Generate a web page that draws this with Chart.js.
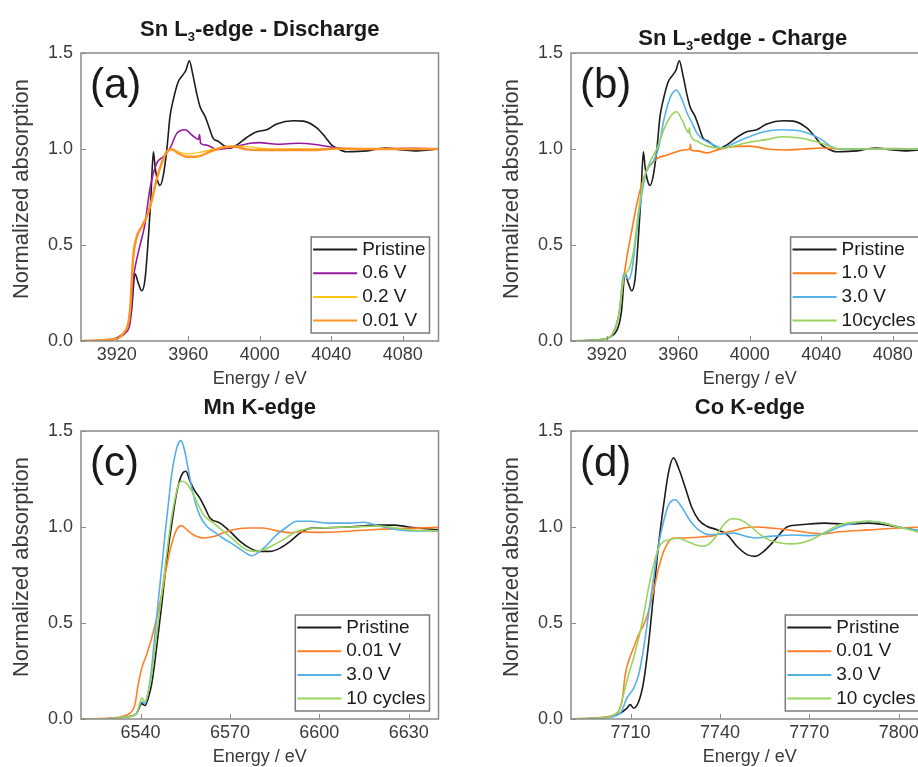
<!DOCTYPE html>
<html>
<head>
<meta charset="utf-8">
<script src="https://cdn.jsdelivr.net/npm/chart.js@4.4.1/dist/chart.umd.min.js"></script>
<style>
  html, body { margin: 0; padding: 0; background: #fff; overflow: hidden; }
  body { width: 918px; height: 767px; position: relative; }
  canvas { position: absolute; }
</style>
</head>
<body>
<canvas id="chartA" width="480" height="400" style="left:0;top:0"></canvas>
<canvas id="chartB" width="480" height="400" style="left:490px;top:0"></canvas>
<canvas id="chartC" width="480" height="400" style="left:0;top:378px"></canvas>
<canvas id="chartD" width="480" height="400" style="left:490px;top:378px"></canvas>
<script>
// tick labels
const snTicks = [3920, 3960, 4000, 4040, 4080];
const mnTicks = [6540, 6570, 6600, 6630];
const coTicks = [7710, 7740, 7770, 7800];
const yTicks = [0, 0.5, 1.0, 1.5];

// Sn L3-edge, pristine (shared by a and b)
const snPristineE = [3900, 3915, 3921.8, 3926.5, 3928.3, 3930.2, 3932.1, 3934, 3935.8, 3937.7, 3939, 3940.5, 3941.4, 3942.7, 3944.2, 3946, 3948, 3949.8, 3951.6, 3954.4, 3956.9, 3958.7, 3960.6, 3962.5, 3964.7, 3966.6, 3969.4, 3971.2, 3974, 3976.8, 3979.6, 3983.4, 3987, 3992.7, 3998.3, 4003.9, 4009.5, 4018.8, 4024.4, 4031.9, 4036.5, 4040.3, 4043, 4048.6, 4060, 4070, 4080, 4088, 4100];
const snPristineV = [0.0, 0.005, 0.02, 0.075, 0.16, 0.35, 0.30, 0.262, 0.32, 0.54, 0.73, 0.985, 0.91, 0.84, 0.81, 0.86, 0.995, 1.17, 1.255, 1.35, 1.385, 1.41, 1.46, 1.39, 1.29, 1.22, 1.17, 1.125, 1.055, 1.04, 1.02, 1.004, 1.02, 1.06, 1.09, 1.10, 1.13, 1.147, 1.145, 1.11, 1.064, 1.02, 1.005, 0.986, 0.99, 1.005, 0.995, 0.99, 1.0];

// (a) discharge
const sn06E = [3900, 3918, 3924, 3927.4, 3929.2, 3930.6, 3932.8, 3935.8, 3938.5, 3942.3, 3946, 3949.8, 3953.5, 3958.2, 3962, 3965.7, 3966.3, 3966.9, 3970.3, 3976, 3985.3, 3994.7, 4000, 4010, 4022, 4030, 4040, 4050, 4085, 4100];
const sn06V = [0.0, 0.01, 0.04, 0.09, 0.32, 0.40, 0.49, 0.61, 0.79, 0.925, 0.96, 1.004, 1.08, 1.10, 1.073, 1.05, 1.075, 1.03, 1.02, 0.998, 1.01, 1.03, 1.033, 1.025, 1.03, 1.025, 1.01, 1.0, 1.003, 1.0];
const sn02E = [3900, 3918, 3923.7, 3927.4, 3929.2, 3931.1, 3933.9, 3936.7, 3939.5, 3942.3, 3945.1, 3948, 3950.8, 3954.5, 3959.2, 3964.8, 3972.2, 3979.6, 3988, 3996, 4005, 4100];
const sn02V = [0.0, 0.01, 0.04, 0.15, 0.42, 0.53, 0.59, 0.645, 0.73, 0.845, 0.93, 0.99, 1.0, 0.985, 0.975, 0.98, 0.995, 1.01, 1.015, 1.01, 1.0, 1.0];
const sn001E = [3900, 3918, 3923.7, 3927.4, 3929.2, 3931.1, 3933.9, 3936.7, 3939.5, 3942.3, 3945.1, 3948, 3950.8, 3954.5, 3959.2, 3964.8, 3972.2, 3979.6, 3985.3, 3992.7, 4000, 4030, 4045, 4060, 4100];
const sn001V = [0.0, 0.01, 0.04, 0.16, 0.44, 0.54, 0.595, 0.647, 0.73, 0.84, 0.925, 0.986, 0.998, 0.977, 0.96, 0.96, 0.986, 1.009, 1.013, 0.998, 0.995, 0.995, 1.003, 1.0, 1.0];

// (b) charge
const sn10E = [3900, 3918, 3924, 3927, 3929.4, 3931.3, 3934.1, 3936.9, 3939.7, 3942.5, 3945.3, 3948.1, 3953.7, 3959.3, 3963, 3966.5, 3966.8, 3967.1, 3970.5, 3976.1, 3981.7, 3989.1, 4000, 4010, 4020, 4030, 4040, 4050, 4080, 4100];
const sn10V = [0.0, 0.01, 0.05, 0.15, 0.32, 0.44, 0.58, 0.717, 0.82, 0.89, 0.925, 0.95, 0.969, 0.986, 0.995, 1.0, 1.025, 0.995, 0.99, 0.98, 0.995, 1.01, 1.015, 1.0, 0.995, 1.0, 1.005, 1.0, 1.002, 1.0];
const sn30E = [3900, 3918, 3924, 3927, 3929.4, 3932.2, 3934.1, 3936.9, 3939.7, 3942.5, 3946.3, 3949.1, 3951.9, 3955.6, 3959, 3962.2, 3965, 3967.8, 3970.6, 3974.4, 3980, 3984.6, 3991.2, 3998.6, 4008, 4018, 4030, 4040, 4046, 4050, 4100];
const sn30V = [0.0, 0.01, 0.05, 0.15, 0.35, 0.32, 0.37, 0.58, 0.77, 0.89, 0.94, 1.01, 1.15, 1.27, 1.307, 1.255, 1.186, 1.134, 1.08, 1.047, 1.02, 1.005, 1.03, 1.06, 1.09, 1.10, 1.09, 1.05, 1.01, 1.0, 1.0];
const sn10cycE = [3900, 3918, 3924, 3927, 3929.4, 3932.2, 3935, 3937.8, 3940.6, 3944.3, 3948.1, 3951.9, 3955.6, 3959, 3962.2, 3965.8, 3966.2, 3966.6, 3970.6, 3976.2, 3984.6, 3993, 3999.6, 4010, 4018, 4030, 4040, 4046, 4050, 4100];
const sn10cycV = [0.0, 0.01, 0.05, 0.15, 0.33, 0.37, 0.47, 0.68, 0.84, 0.934, 1.003, 1.1, 1.168, 1.194, 1.15, 1.085, 1.11, 1.08, 1.04, 1.015, 1.005, 1.02, 1.035, 1.05, 1.064, 1.055, 1.03, 1.01, 1.0, 1.0];

// (c) Mn K-edge
const mnPristineE = [6520, 6530, 6535, 6538.7, 6540.4, 6541.5, 6542.6, 6543.7, 6544.8, 6545.9, 6547.1, 6548.2, 6549.3, 6550.4, 6551.6, 6552.7, 6554.1, 6555.2, 6556.6, 6558.3, 6559.9, 6561.6, 6563.3, 6566.7, 6570, 6573.4, 6576.7, 6580.1, 6583.4, 6586.8, 6590.2, 6593.5, 6596.9, 6600, 6610, 6620, 6625, 6630, 6640];
const mnPristineV = [0.0, 0.003, 0.01, 0.03, 0.08, 0.07, 0.11, 0.18, 0.30, 0.44, 0.595, 0.75, 0.89, 1.01, 1.134, 1.22, 1.28, 1.29, 1.238, 1.186, 1.15, 1.10, 1.047, 1.02, 0.977, 0.925, 0.89, 0.873, 0.873, 0.89, 0.925, 0.968, 0.993, 0.995, 1.0, 1.01, 1.01, 1.0, 0.985];
const mn001E = [6520, 6530, 6536.4, 6538.1, 6539.2, 6540.4, 6542, 6543.7, 6545.4, 6547.1, 6548.7, 6550.4, 6552.1, 6553.8, 6555.5, 6557.7, 6561.1, 6564.5, 6567.8, 6572.3, 6576.7, 6581.2, 6585.7, 6590.2, 6593.5, 6600, 6610, 6620, 6630, 6640];
const mn001V = [0.0, 0.005, 0.03, 0.075, 0.18, 0.265, 0.335, 0.42, 0.526, 0.65, 0.79, 0.91, 0.986, 1.007, 0.986, 0.96, 0.943, 0.95, 0.97, 0.99, 0.995, 0.995, 0.98, 0.97, 0.975, 0.972, 0.978, 0.988, 0.993, 0.998];
const mn30E = [6520, 6530, 6535, 6538.7, 6540.4, 6541.5, 6542.6, 6543.7, 6544.8, 6545.9, 6547.1, 6548.2, 6549.3, 6550.4, 6551.6, 6552.7, 6553.5, 6554.6, 6555.7, 6557.2, 6558.6, 6560, 6562.2, 6564.5, 6567.8, 6571.2, 6574.5, 6577.3, 6579, 6582.4, 6585.7, 6589.1, 6592.4, 6597, 6603, 6610, 6615, 6620, 6630, 6640];
const mn30V = [0.0, 0.003, 0.01, 0.03, 0.09, 0.08, 0.144, 0.265, 0.44, 0.61, 0.79, 0.96, 1.116, 1.27, 1.377, 1.437, 1.45, 1.41, 1.325, 1.203, 1.116, 1.055, 1.004, 0.977, 0.94, 0.908, 0.873, 0.85, 0.862, 0.906, 0.96, 1.0, 1.03, 1.03, 1.02, 1.02, 1.025, 1.005, 0.98, 0.98];
const mn10cycE = [6520, 6530, 6535, 6538.7, 6540.4, 6541.5, 6542.6, 6543.7, 6544.8, 6545.9, 6547.1, 6548.2, 6549.3, 6550.4, 6551.6, 6552.7, 6553.8, 6555.2, 6557.2, 6558.8, 6561.1, 6564.5, 6567.8, 6571.2, 6574.5, 6577.9, 6581.2, 6584.6, 6587.9, 6592.4, 6596, 6600, 6610, 6620, 6630, 6640];
const mn10cycV = [0.0, 0.003, 0.01, 0.03, 0.11, 0.09, 0.144, 0.23, 0.37, 0.51, 0.65, 0.79, 0.925, 1.047, 1.15, 1.22, 1.238, 1.23, 1.186, 1.134, 1.064, 1.02, 0.977, 0.934, 0.89, 0.873, 0.882, 0.906, 0.934, 0.977, 0.99, 0.995, 1.0, 1.005, 0.985, 0.98];

// (d) Co K-edge
const coPristineE = [7690, 7700, 7706.5, 7708.8, 7709.9, 7711, 7712.7, 7714.4, 7716, 7717.7, 7719.4, 7721.1, 7722.8, 7724.4, 7726.1, 7728.4, 7730.6, 7732.8, 7735.6, 7739, 7742.4, 7745.7, 7749.1, 7751.9, 7754.7, 7758, 7762.5, 7766, 7770, 7775, 7782, 7790, 7800, 7810];
const coPristineV = [0.0, 0.005, 0.03, 0.057, 0.075, 0.057, 0.09, 0.196, 0.387, 0.647, 0.908, 1.116, 1.29, 1.36, 1.307, 1.203, 1.10, 1.038, 1.004, 0.986, 0.96, 0.9, 0.856, 0.847, 0.873, 0.925, 1.0, 1.01, 1.016, 1.02, 1.015, 1.02, 1.0, 0.97];
const co001E = [7690, 7700, 7705.4, 7707.1, 7708.2, 7709.3, 7711, 7712.7, 7714.4, 7716, 7717.7, 7719.4, 7721.1, 7722.8, 7724.4, 7727.8, 7731.2, 7734.5, 7737.9, 7741.2, 7744.6, 7748, 7752.4, 7756.9, 7762.5, 7770, 7775, 7780, 7790, 7800, 7810];
const co001V = [0.0, 0.008, 0.03, 0.09, 0.23, 0.30, 0.37, 0.44, 0.49, 0.56, 0.665, 0.786, 0.873, 0.925, 0.943, 0.943, 0.945, 0.95, 0.955, 0.97, 0.98, 0.995, 1.0, 0.995, 0.986, 0.97, 0.965, 0.975, 0.985, 0.995, 1.0];
const co30E = [7690, 7700, 7706.5, 7708.8, 7711, 7712.7, 7714.4, 7716, 7717.7, 7719.4, 7721.1, 7722.8, 7725, 7727.3, 7730.1, 7733.5, 7736.8, 7740.2, 7744.6, 7749.1, 7752.4, 7755.8, 7760.3, 7765, 7770, 7775, 7780, 7785, 7790, 7795, 7800, 7805, 7810];
const co30V = [0.0, 0.005, 0.03, 0.11, 0.16, 0.23, 0.37, 0.543, 0.734, 0.908, 1.03, 1.116, 1.142, 1.10, 1.03, 0.977, 0.96, 0.963, 0.968, 0.95, 0.943, 0.95, 0.955, 0.958, 0.955, 0.965, 1.0, 1.02, 1.03, 1.02, 1.0, 0.985, 0.975];
const co10cycE = [7690, 7700, 7705.9, 7707.6, 7709.3, 7711, 7712.7, 7714.4, 7716, 7717.7, 7719.4, 7721.1, 7723.3, 7725.6, 7729, 7732.3, 7734.5, 7736.8, 7739, 7741.2, 7744, 7746.8, 7750.2, 7753.5, 7756.9, 7760.3, 7764, 7770, 7775, 7780, 7785, 7790, 7795, 7800, 7810];
const co10cycV = [0.0, 0.005, 0.04, 0.127, 0.23, 0.318, 0.42, 0.543, 0.68, 0.80, 0.89, 0.925, 0.934, 0.943, 0.925, 0.905, 0.9, 0.917, 0.96, 1.012, 1.043, 1.038, 1.004, 0.96, 0.93, 0.917, 0.912, 0.93, 0.97, 1.01, 1.025, 1.03, 1.02, 1.0, 0.96];

// Shared styling
const fontFamily = "'Liberation Sans', Arial, sans-serif";
const frameColor = '#8a8a8a';
const textColor = '#3a3a3a';
const inkColor = '#1a1a1a';

const pts = (e, v) => e.map((x, i) => ({ x: x, y: v[i] }));

// Draws the box, inward ticks, panel title (with subscript), panel letter, y title and legend
const panelDecor = {
    id: 'panelDecor',
    afterDatasetsDraw(chart, args, opts) {
        const ctx = chart.ctx;
        const ca = chart.chartArea;
        const xs = chart.scales.x, ys = chart.scales.y;
        ctx.save();

        // frame + inward ticks
        ctx.strokeStyle = frameColor;
        ctx.lineWidth = 1.5;
        ctx.strokeRect(ca.left, ca.top, ca.right - ca.left, ca.bottom - ca.top);
        ctx.lineWidth = 1;
        ctx.beginPath();
        xs.ticks.forEach(t => {
            const px = Math.round(xs.getPixelForValue(t.value)) + 0.5;
            ctx.moveTo(px, ca.bottom); ctx.lineTo(px, ca.bottom - 5);
        });
        ys.ticks.forEach(t => {
            const py = Math.round(ys.getPixelForValue(t.value)) + 0.5;
            ctx.moveTo(ca.left, py); ctx.lineTo(ca.left + 5, py);
        });
        ctx.stroke();

        // panel title, parts: [text, isSubscript]
        const mainFont = 'bold 22px ' + fontFamily;
        const subFont = 'bold 13px ' + fontFamily;
        let total = 0;
        opts.title.forEach(p => { ctx.font = p[1] ? subFont : mainFont; total += ctx.measureText(p[0]).width; });
        let tx = (ca.left + ca.right) / 2 - total / 2 + (opts.titleDx || 0);
        ctx.fillStyle = inkColor;
        ctx.textBaseline = 'alphabetic';
        ctx.textAlign = 'left';
        opts.title.forEach(p => {
            ctx.font = p[1] ? subFont : mainFont;
            ctx.fillText(p[0], tx, opts.titleY + (p[1] ? 5 : 0));
            tx += ctx.measureText(p[0]).width;
        });

        // panel letter
        ctx.font = '42px ' + fontFamily;
        ctx.fillText(opts.letter, ca.left + 9, ca.top + 45);

        // y axis title
        ctx.save();
        ctx.translate(22, (ca.top + ca.bottom) / 2 - 8);
        ctx.rotate(-Math.PI / 2);
        ctx.font = '22px ' + fontFamily;
        ctx.fillStyle = textColor;
        ctx.textAlign = 'center';
        ctx.textBaseline = 'middle';
        ctx.fillText('Normalized absorption', 0, 0);
        ctx.restore();

        // legend box in the lower right
        const sets = chart.data.datasets;
        ctx.font = '19px ' + fontFamily;
        const maxW = Math.max(...sets.map(d => ctx.measureText(d.label).width));
        const boxW = 2 + 44 + 5 + maxW + 4;
        const boxH = 96;
        const bx = ca.right - 9 - boxW;
        const by = ca.bottom - 8 - boxH;
        ctx.fillStyle = '#ffffff';
        ctx.fillRect(bx, by, boxW, boxH);
        ctx.strokeStyle = '#7a7a7a';
        ctx.lineWidth = 1.5;
        ctx.strokeRect(bx, by, boxW, boxH);
        ctx.textBaseline = 'middle';
        sets.forEach((d, i) => {
            const ry = by + 12.5 + i * 23.7;
            ctx.strokeStyle = d.borderColor;
            ctx.lineWidth = 2;
            ctx.beginPath();
            ctx.moveTo(bx + 2, ry); ctx.lineTo(bx + 46, ry);
            ctx.stroke();
            ctx.fillStyle = inkColor;
            ctx.fillText(d.label, bx + 51, ry);
        });
        ctx.restore();
    }
};

function makePanel(canvasId, cfg) {
    new Chart(document.getElementById(canvasId), {
        type: 'line',
        data: {
            datasets: cfg.series.map((s, i) => ({
                label: s.label,
                data: pts(s.e, s.v),
                borderColor: s.color,
                borderWidth: s.width || 1.6,
                pointRadius: 0,
                fill: false,
                cubicInterpolationMode: 'monotone',
                order: cfg.series.length - i // later series on top
            }))
        },
        options: {
            responsive: false,
            animation: false,
            devicePixelRatio: 1,
            layout: { padding: { left: 6, right: 41.5, top: 53, bottom: 0 } },
            plugins: {
                legend: { display: false },
                tooltip: { enabled: false },
                panelDecor: { title: cfg.title, titleY: cfg.titleY, titleDx: cfg.titleDx, letter: cfg.letter }
            },
            scales: {
                x: {
                    type: 'linear',
                    min: cfg.xMin,
                    max: cfg.xMax,
                    afterBuildTicks: s => { s.ticks = cfg.xTicks.map(v => ({ value: v })); },
                    afterFit: s => { s.height = 59; },
                    grid: { display: false, drawTicks: false },
                    border: { display: false },
                    ticks: { padding: 3, maxRotation: 0, color: textColor, font: { family: fontFamily, size: 18 }, callback: v => String(v) },
                    title: { display: true, text: 'Energy / eV', color: textColor, font: { family: fontFamily, size: 18 }, padding: { top: 0, bottom: 10 } }
                },
                y: {
                    min: 0,
                    max: 1.5,
                    afterBuildTicks: s => { s.ticks = yTicks.map(v => ({ value: v })); },
                    afterFit: s => { s.width = 75; },
                    grid: { display: false, drawTicks: false },
                    border: { display: false },
                    ticks: { padding: 8, color: textColor, font: { family: fontFamily, size: 18 }, callback: v => Number(v).toFixed(1) }
                }
            }
        },
        plugins: [panelDecor]
    });
}

makePanel('chartA', {
    letter: '(a)', title: [['Sn L', false], ['3', true], ['-edge - Discharge', false]], titleY: 36,
    xMin: 3900, xMax: 4100, xTicks: snTicks,
    series: [
        { label: 'Pristine', e: snPristineE, v: snPristineV, color: '#1c1c1c' },
        { label: '0.6 V', e: sn06E, v: sn06V, color: '#951b9b' },
        { label: '0.2 V', e: sn02E, v: sn02V, color: '#ffc61a', width: 1.4 },
        { label: '0.01 V', e: sn001E, v: sn001V, color: '#ff9326', width: 2.4 }
    ]
});

makePanel('chartB', {
    letter: '(b)', title: [['Sn L', false], ['3', true], ['-edge - Charge', false]], titleY: 45, titleDx: -7,
    xMin: 3900, xMax: 4100, xTicks: snTicks,
    series: [
        { label: 'Pristine', e: snPristineE, v: snPristineV, color: '#1c1c1c' },
        { label: '1.0 V', e: sn10E, v: sn10V, color: '#ff7a1a' },
        { label: '3.0 V', e: sn30E, v: sn30V, color: '#55b4ea' },
        { label: '10cycles', e: sn10cycE, v: sn10cycV, color: '#98d25a' }
    ]
});

makePanel('chartC', {
    letter: '(c)', title: [['Mn K-edge', false]], titleY: 36,
    xMin: 6520, xMax: 6640, xTicks: mnTicks,
    series: [
        { label: 'Pristine', e: mnPristineE, v: mnPristineV, color: '#1c1c1c' },
        { label: '0.01 V', e: mn001E, v: mn001V, color: '#ff7f2a' },
        { label: '3.0 V', e: mn30E, v: mn30V, color: '#55b0e6' },
        { label: '10 cycles', e: mn10cycE, v: mn10cycV, color: '#9ad45c' }
    ]
});

makePanel('chartD', {
    letter: '(d)', title: [['Co K-edge', false]], titleY: 36,
    xMin: 7690, xMax: 7810, xTicks: coTicks,
    series: [
        { label: 'Pristine', e: coPristineE, v: coPristineV, color: '#1c1c1c' },
        { label: '0.01 V', e: co001E, v: co001V, color: '#ff7f2a' },
        { label: '3.0 V', e: co30E, v: co30V, color: '#55b0e6' },
        { label: '10 cycles', e: co10cycE, v: co10cycV, color: '#9ad45c' }
    ]
});
</script>
</body>
</html>
